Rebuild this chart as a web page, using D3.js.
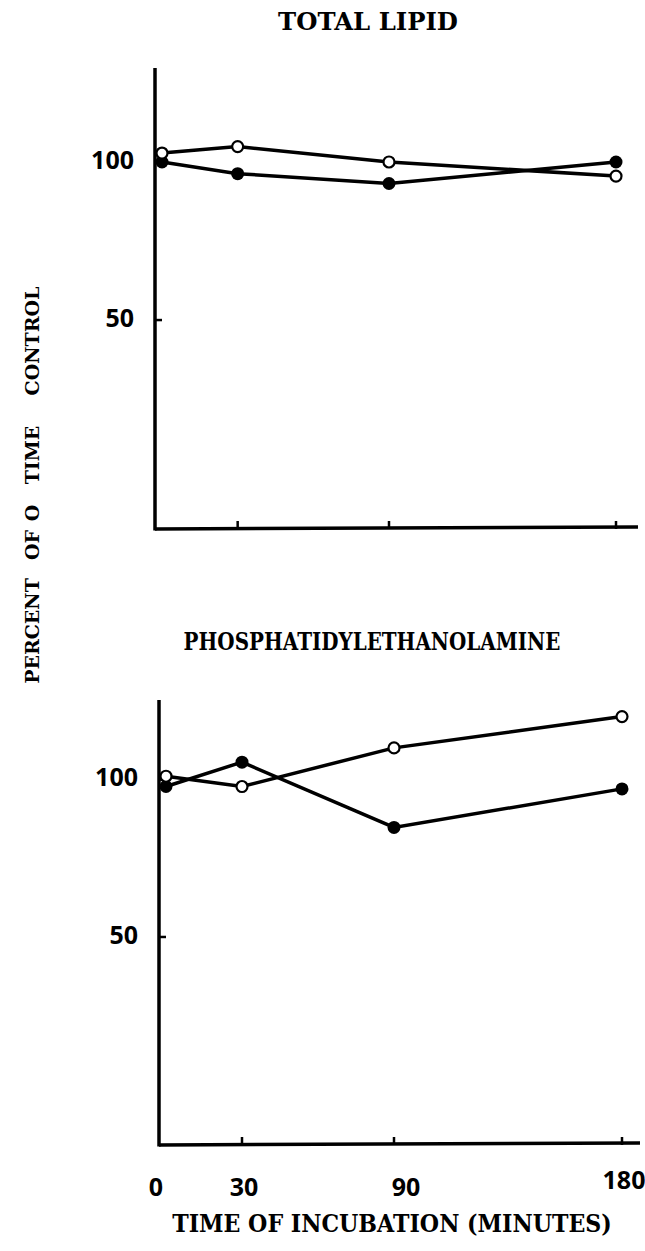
<!DOCTYPE html>
<html>
<head>
<meta charset="utf-8">
<script src="https://cdn.jsdelivr.net/npm/d3@7"></script>
<style>
  body { margin: 0; background: #fff; }
  svg { display: block; }
</style>
</head>
<body>
<svg id="graph"></svg>
<script>
// incubation times (minutes)
const times = [0, 30, 90, 180];
// total lipid, percent of 0 time control
const lipidOpen = [104, 107, 100, 94];
const lipidFilled = [100, 95, 91, 100];
// phosphatidylethanolamine
const peOpen = [101.5, 97, 115, 132];
const peFilled = [97, 108, 81, 96];

const xTicks = [0, 30, 90, 180];
const yTicks = [50, 100];
const yTitleWords = ["PERCENT", "OF", "O", "TIME", "CONTROL"];

const width = 645, height = 1251;
const typeFont = "'DejaVu Serif', serif";
const numFont = "'Open Sans', sans-serif";

var svg = d3.select("#graph")
    .attr("width", width)
    .attr("height", height);

svg.append("rect").attr("width", width).attr("height", height).attr("fill", "#fff");

// typewriter-ish caption squeezed horizontally to a given width
function caption(txt, cx, baseY, w, size){
  var t = svg.append("text")
    .attr("text-anchor", "middle")
    .attr("font-family", typeFont)
    .attr("font-weight", "bold")
    .attr("font-size", size)
    .text(txt);
  var nat = t.node().getComputedTextLength();
  var s = w / nat;
  t.attr("transform", "translate(" + cx + "," + baseY + ") scale(" + s + ",1)");
  return t;
}

var panels = [
  {title: "TOTAL LIPID", titleX: 368, titleY: 30, titleW: 180,
   open: lipidOpen, filled: lipidFilled,
   yMax: 151, yRange: [529, 68], xRange: [162, 616], axisX: 155, axisRight: 638},
  {title: "PHOSPHATIDYLETHANOLAMINE", titleX: 372, titleY: 650, titleW: 377,
   open: peOpen, filled: peFilled,
   yMax: 142, yRange: [1145, 700], xRange: [166, 622], axisX: 159, axisRight: 640}
];

panels.forEach(function(p, k){
  var x = d3.scaleLinear().domain([0, 180]).range(p.xRange);
  var y = d3.scaleLog().domain([20, p.yMax]).range(p.yRange);
  var g = svg.append("g");

  caption(p.title, p.titleX, p.titleY, p.titleW, 24);

  // axes
  g.append("line")
    .attr("x1", p.axisX).attr("x2", p.axisX)
    .attr("y1", y(p.yMax)).attr("y2", y(20) + 1.5)
    .attr("stroke", "#000").attr("stroke-width", 3.5);
  g.append("line")
    .attr("x1", p.axisX).attr("x2", p.axisRight)
    .attr("y1", y(20)).attr("y2", y(20) - 2)
    .attr("stroke", "#000").attr("stroke-width", 3.5);

  g.selectAll(".xtick")
    .data(xTicks.filter(d => d > 0))
    .join("line")
    .attr("x1", d => x(d)).attr("x2", d => x(d))
    .attr("y1", y(20)).attr("y2", y(20) - 8)
    .attr("stroke", "#000").attr("stroke-width", 2.5);

  g.selectAll(".ytick")
    .data(yTicks)
    .join("line")
    .attr("x1", p.axisX).attr("x2", p.axisX + 7)
    .attr("y1", d => y(d)).attr("y2", d => y(d))
    .attr("stroke", "#000").attr("stroke-width", 2.5);

  g.selectAll(".ylab")
    .data(yTicks)
    .join("text")
    .attr("x", p.axisX - 21)
    .attr("y", d => y(d) - 2)
    .attr("dy", "0.35em")
    .attr("text-anchor", "end")
    .attr("font-family", numFont)
    .attr("font-weight", "bold")
    .attr("font-size", 25)
    .text(d => d);

  var line = d3.line()
    .x((d, i) => x(times[i]))
    .y(d => y(d));

  g.append("path").datum(p.filled)
    .attr("fill", "none").attr("stroke", "#000").attr("stroke-width", 3.5)
    .attr("d", line);
  g.append("path").datum(p.open)
    .attr("fill", "none").attr("stroke", "#000").attr("stroke-width", 3.5)
    .attr("d", line);

  g.selectAll(".filled")
    .data(p.filled)
    .join("circle")
    .attr("cx", (d, i) => x(times[i]))
    .attr("cy", d => y(d))
    .attr("r", 6.5)
    .attr("fill", "#000");
  g.selectAll(".open")
    .data(p.open)
    .enter()
    .append("circle")
    .attr("cx", (d, i) => x(times[i]))
    .attr("cy", d => y(d))
    .attr("r", 5.5)
    .attr("fill", "#fff")
    .attr("stroke", "#000")
    .attr("stroke-width", 2.2);

  // x tick labels only under the lower panel
  if(k == 1){
    g.selectAll(".xlab")
      .data(xTicks)
      .enter()
      .append("text")
      .attr("x", d => d == 0 ? p.axisX - 3 : x(d) + (d == 90 ? 12 : 2))
      .attr("y", d => d == 180 ? 1189 : 1196)
      .attr("text-anchor", "middle")
      .attr("font-family", numFont)
      .attr("font-weight", "bold")
      .attr("font-size", 25)
      .text(d => d);

    caption("TIME OF INCUBATION (MINUTES)", 392, 1232, 440, 24);
  }
});

// y axis title, words spread along the left edge
var wordPos = [631, 545, 513, 455, 341];
svg.selectAll(".ytitle")
  .data(yTitleWords)
  .enter()
  .append("text")
  .attr("transform", (d, i) => "translate(39," + wordPos[i] + ") rotate(-90)")
  .attr("text-anchor", "middle")
  .attr("font-family", typeFont)
  .attr("font-weight", "bold")
  .attr("font-size", 19)
  .text(d => d);
</script>
</body>
</html>
